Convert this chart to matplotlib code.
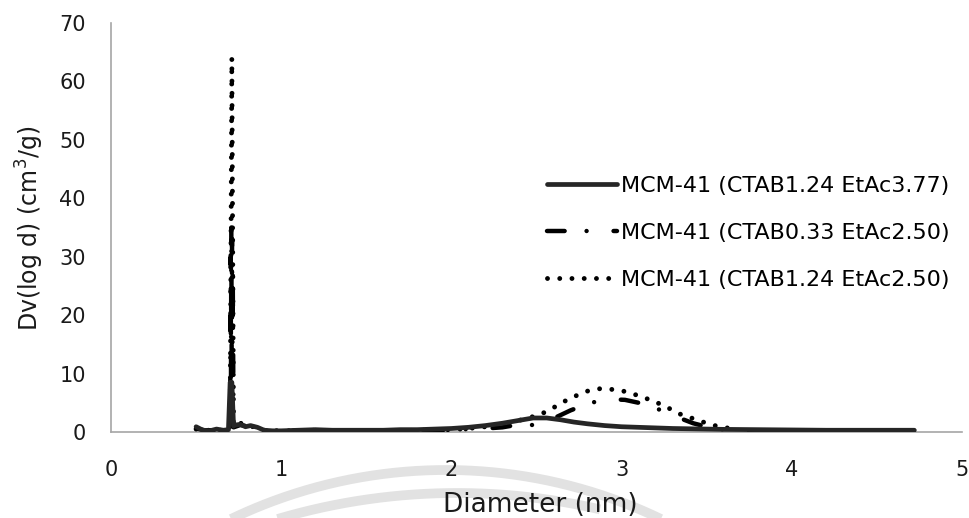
import numpy as np
import matplotlib
matplotlib.use("Agg")
import matplotlib.pyplot as plt

plt.rcParams['font.family'] = ['DejaVu Sans']
plt.rcParams['lines.scale_dashes'] = False

# pore size distribution, three samples
d_a = [0.50, 0.54, 0.58, 0.62, 0.66, 0.69, 0.70, 0.71, 0.72, 0.73, 0.76, 0.79, 0.82, 0.86,
       0.90, 0.95, 1.00, 1.10, 1.20, 1.30, 1.40, 1.50, 1.60, 1.70, 1.80, 1.90, 2.00, 2.10,
       2.20, 2.30, 2.40, 2.48, 2.56, 2.64, 2.72, 2.80, 2.90, 3.00, 3.10, 3.20, 3.30, 3.40,
       3.50, 3.60, 3.80, 4.00, 4.20, 4.40, 4.60, 4.72]
dv_a = [0.9, 0.3, 0.2, 0.5, 0.3, 0.4, 8.5, 8.5, 1.0, 1.2, 1.3, 0.9, 1.1, 0.8,
        0.3, 0.2, 0.2, 0.3, 0.4, 0.3, 0.3, 0.3, 0.3, 0.4, 0.4, 0.5, 0.6, 0.8,
        1.1, 1.5, 2.0, 2.4, 2.4, 2.1, 1.7, 1.4, 1.1, 0.9, 0.8, 0.7, 0.6, 0.55,
        0.5, 0.45, 0.4, 0.35, 0.3, 0.3, 0.3, 0.3]

d_b = [0.50, 0.55, 0.60, 0.65, 0.69, 0.700, 0.703, 0.705, 0.707, 0.709, 0.711, 0.713, 0.715,
       0.72, 0.73, 0.76, 0.80, 0.85, 0.90, 1.00,
       1.20, 1.40, 1.60, 1.80, 2.00, 2.10, 2.20, 2.30, 2.36, 2.42, 2.48, 2.55, 2.62, 2.70,
       2.78, 2.86, 2.94, 3.02, 3.10, 3.18, 3.26, 3.34, 3.42, 3.50, 3.58, 3.66, 3.80, 4.00,
       4.20, 4.40, 4.60, 4.70]
dv_b = [0.6, 0.3, 0.3, 0.4, 0.3, 0.5, 30.0, 9.0, 35.0, 12.0, 33.0, 10.0, 28.0,
        0.8, 0.9, 1.2, 1.0, 0.8, 0.3, 0.2,
        0.3, 0.3, 0.2, 0.3, 0.4, 0.5, 0.6, 0.8, 1.1, 1.2, 1.2, 1.6, 2.6, 3.7,
        4.6, 5.3, 5.6, 5.5, 5.0, 4.3, 3.4, 2.4, 1.5, 0.9, 0.5, 0.3, 0.1, 0.05,
        0.05, 0.05, 0.1, 0.1]

d_c = [0.50, 0.55, 0.60, 0.65, 0.69, 0.70, 0.71, 0.72, 0.73, 0.76, 0.80, 0.85, 0.90, 1.00,
       1.20, 1.40, 1.60, 1.80, 2.00, 2.10, 2.20, 2.30, 2.40, 2.50, 2.56, 2.62, 2.68, 2.74,
       2.80, 2.87, 2.94, 3.01, 3.08, 3.14, 3.21, 3.27, 3.33, 3.40, 3.46, 3.53, 3.60, 3.68]
dv_c = [0.5, 0.3, 0.3, 0.3, 0.4, 0.5, 64.0, 0.8, 1.0, 1.5, 1.3, 0.7, 0.3, 0.2,
        0.3, 0.2, 0.2, 0.3, 0.4, 0.6, 0.9, 1.3, 2.0, 2.8, 3.5, 4.5, 5.5, 6.3,
        7.0, 7.4, 7.3, 7.0, 6.4, 5.8, 5.0, 4.2, 3.2, 2.5, 1.9, 1.2, 0.8, 0.4]

labels = ['MCM-41 (CTAB1.24 EtAc3.77)',
          'MCM-41 (CTAB0.33 EtAc2.50)',
          'MCM-41 (CTAB1.24 EtAc2.50) ']

W, H = 969, 518
fig = plt.figure(figsize=(W / 100, H / 100), dpi=100)

# faint arcs along the bottom edge
bg = fig.add_axes([0, 0, 1, 1], zorder=-1)
bg.set_xlim(0, W)
bg.set_ylim(H, 0)
bg.axis('off')
for cx, cy, r, x0, x1 in [(446, 966, 496, 225, 662), (457, 1125, 632, 275, 600)]:
    xs = np.linspace(x0, x1, 200)
    ys = cy - np.sqrt(r ** 2 - (xs - cx) ** 2)
    bg.plot(xs, ys, color='#e2e2e2', lw=7, solid_capstyle='butt')

ax = fig.add_axes([111 / W, 1 - 432 / H, 851 / W, 409 / H])
ax.patch.set_alpha(0)

ax.plot(d_b, dv_b, color='black', lw=3.2, dashes=(12.7, 15.8, 0.01, 19.4),
        dash_capstyle='round', label=labels[1], zorder=3)
ax.plot(d_c, dv_c, color='black', lw=3.5, dashes=(0.01, 8.8),
        dash_capstyle='round', label=labels[2], zorder=3)
ax.plot(d_a, dv_a, color='#262626', lw=3.4, solid_capstyle='round',
        solid_joinstyle='round', label=labels[0], zorder=4)

ax.set_xlim(0, 5)
ax.set_ylim(0, 70)
ax.set_xticks(np.arange(0, 6, 1))
ax.set_yticks(np.arange(0, 80, 10))
ax.tick_params(length=0, labelsize=15, labelcolor='#1a1a1a')
ax.tick_params(axis='x', pad=20)
ax.tick_params(axis='y', pad=18)
for s in ['top', 'right']:
    ax.spines[s].set_visible(False)
for s in ['left', 'bottom']:
    ax.spines[s].set_color('#a6a6a6')
    ax.spines[s].set_linewidth(1.2)
    ax.spines[s].set_zorder(1)

h, l = ax.get_legend_handles_labels()
order = [2, 0, 1]
ax.legend([h[i] for i in order], [l[i] for i in order], frameon=False,
          fontsize=16, handlelength=3.15, handletextpad=0.2, labelspacing=1.22,
          borderpad=0, borderaxespad=0, loc='center left',
          bbox_to_anchor=(547 / W, 1 - 233 / H), bbox_transform=fig.transFigure)

fig.text(540 / W, 1 - 505 / H, 'Diameter (nm)', fontsize=19, ha='center', va='center',
         color='#1a1a1a')
fig.text(30 / W, 1 - 228 / H, 'Dv(log d) (cm$^3$/g)', fontsize=17, rotation=90,
         ha='center', va='center', color='#1a1a1a')

fig.savefig('out.png', dpi=100)
